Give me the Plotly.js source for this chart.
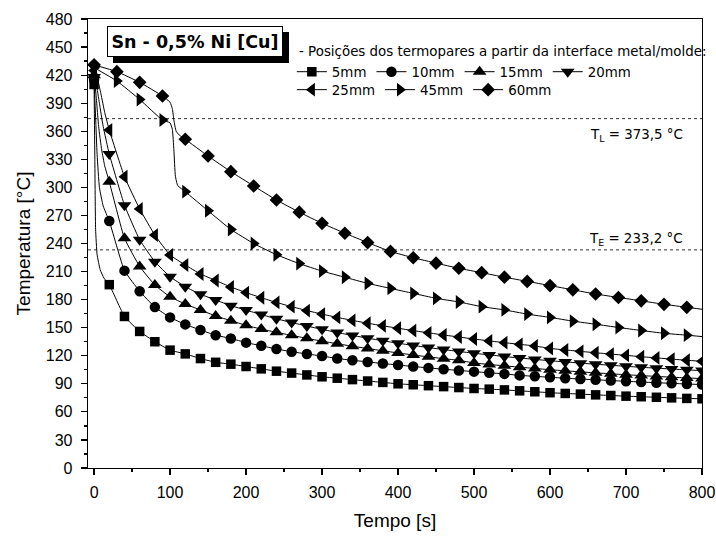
<!DOCTYPE html>
<html>
<head>
<meta charset="utf-8">
<script src="https://cdn.plot.ly/plotly-3.0.1.min.js"></script>
<style>
  html, body { margin: 0; padding: 0; background: #ffffff; }
  #chart { width: 716px; height: 541px; }
</style>
</head>
<body>
<div id="chart"></div>
<script>
// Sampling grids of the plotted markers (s)
const time20 = [0,20,40,60,80,100,120,140,160,180,200,220,240,260,280,300,320,340,360,380,400,
                420,440,460,480,500,520,540,560,580,600,620,640,660,680,700,720,740,760,780,800];
const time30 = [0,30,60,90,120,150,180,210,240,270,300,330,360,390,420,450,480,510,540,570,600,
                630,660,690,720,750,780];

// Thermocouple readings (°C) at the marker times
const temp5mm  = [410,196,162,146,135,126,122,117,113,111,108.5,106,103.5,101.5,99.5,97.5,96,94.5,93,91.5,90,
                  89,88,87,86,85,84.3,83.5,82.5,81.5,80.5,79.7,79,78.2,77.5,76.8,76.2,75.6,75,74.4,74];
const temp10mm = [415,264,211,189,172,161,153.5,147.5,142,138.5,134,130.7,127.2,124.3,121.9,119.7,117,115.2,113.4,111.7,110.1,
                  108.5,107,105.6,104.3,103,101.8,100.6,99,98,97,96,95.1,94.3,93.5,92.7,91.9,91.2,90.5,89.8,89.2];
const temp15mm = [420,306,245.6,215.5,195.6,183,175.3,168.9,162.5,157.5,152.5,148.5,145,141.8,138.6,135.6,132.8,130.2,127.7,125.3,123,
                  120.8,118.8,116.9,115.1,112.3,110.7,109.2,107.8,106.4,105.1,103.9,102.8,101.7,100.7,99.7,98.8,97.9,97.1,96.3,95.6];
const temp20mm = [418,335.7,281,244,220.5,204.5,193.8,185.7,179.6,173.5,168.8,164,159.5,155.5,151.8,148.2,144.8,141.7,138.8,136,133.4,
                  131,128.8,126.6,124.6,122.7,120.9,119.2,117.6,116.1,114.7,113.4,112.1,110.9,109.8,108.7,107.7,106.7,105.8,104.9,104.1];
const temp25mm = [425,361.3,311.4,277,249,227.7,217,207.4,200.5,193.5,187.5,182,177,172.5,168.3,164.5,161,157.8,154.8,152,149.4,
                  146.9,144.5,142.2,140,137.9,135.9,134,132.2,130.5,127.8,126.2,124.7,123.2,121.8,120.4,119,117.7,116.4,115.2,114];
const temp45mm = [428,413.7,394,372,295.4,275,255,240,228,218.5,210.5,203.9,197.4,192,186.7,181.4,177.5,172.5,169,164.5,161,
                  157,153.7,150.2,147,144,142];
const temp60mm = [431,423.7,412.3,397.7,351.4,333.5,316.8,301.5,286.5,273.5,261.6,251,241,231.5,224.8,219,213.5,208.8,204,199.5,195,
                  190.5,186,182.3,178.7,175,171.8];

// Additional curve vertices between markers (fast initial cooling, solidification steps, end of record)
const extraTime5mm  = [1,2,4,8,13];
const extraTemp5mm  = [330,255,228,212,203];
const extraTime10mm = [2,4,7,12];
const extraTemp10mm = [375,335,300,280];
const extraTime15mm = [3,6,10,14];
const extraTemp15mm = [395,365,340,323];
const extraTime20mm = [3,7,12];
const extraTemp20mm = [410,390,365];
const extraTime25mm = [4,9,14];
const extraTemp25mm = [418,400,380];
const extraTime45mm = [100,103,105,107,110,800];
const extraTemp45mm = [369,362,340,312,302,140.5];
const extraTime60mm = [100,103,105,108,112,800];
const extraTemp60mm = [391,384,372,360,356,169.7];

// Reference temperatures
const liquidusTemp  = 373.5;
const eutecticTemp  = 233.2;

const seriesNames = ['5mm','10mm','15mm','20mm','25mm','45mm','60mm'];

const series = [
  {name: seriesNames[0], t: time20, v: temp5mm,  et: extraTime5mm,  ev: extraTemp5mm,  symbol: 'square',         size: 9.5, legend: 'legend'},
  {name: seriesNames[1], t: time20, v: temp10mm, et: extraTime10mm, ev: extraTemp10mm, symbol: 'circle',         size: 10.5, legend: 'legend'},
  {name: seriesNames[2], t: time20, v: temp15mm, et: extraTime15mm, ev: extraTemp15mm, symbol: 'triangle-up',    size: 12, legend: 'legend'},
  {name: seriesNames[3], t: time20, v: temp20mm, et: extraTime20mm, ev: extraTemp20mm, symbol: 'triangle-down',  size: 12, legend: 'legend'},
  {name: seriesNames[4], t: time20, v: temp25mm, et: extraTime25mm, ev: extraTemp25mm, symbol: 'triangle-left',  size: 12, legend: 'legend2'},
  {name: seriesNames[5], t: time30, v: temp45mm, et: extraTime45mm, ev: extraTemp45mm, symbol: 'triangle-right', size: 12, legend: 'legend2'},
  {name: seriesNames[6], t: time30, v: temp60mm, et: extraTime60mm, ev: extraTemp60mm, symbol: 'diamond',        size: 10.5, legend: 'legend2'}
];

// Merge marker points with the extra vertices, ordered by time
function curvePoints(s) {
  const pts = s.t.map((t, i) => [t, s.v[i]]).concat(s.et.map((t, i) => [t, s.ev[i]]));
  pts.sort((a, b) => a[0] - b[0]);
  return {x: pts.map(p => p[0]), y: pts.map(p => p[1])};
}

const traces = [];
series.forEach(s => {
  const c = curvePoints(s);
  traces.push({
    type: 'scatter', mode: 'lines', x: c.x, y: c.y,
    line: {color: '#000', width: 1, shape: 'spline', smoothing: 0.4},
    showlegend: false, hoverinfo: 'skip'
  });
  traces.push({
    type: 'scatter', mode: 'markers', x: s.t, y: s.v,
    marker: {symbol: s.symbol, size: s.size, color: '#000', line: {width: 0}},
    showlegend: false, name: s.name
  });
  // legend entry (line with marker)
  traces.push({
    type: 'scatter', mode: 'lines+markers', x: [null], y: [null], name: s.name,
    legend: s.legend,
    line: {color: '#000', width: 1},
    marker: {symbol: s.symbol, size: s.size, color: '#000', line: {width: 0}}
  });
});

function fmt(v) { return v.toFixed(1).replace('.', ','); }

const axisFont = {family: 'Liberation Sans, Arial, sans-serif', size: 16, color: '#000'};
const titleFont = {family: 'Liberation Sans, Arial, sans-serif', size: 19, color: '#000'};
const noteFont = {family: 'DejaVu Sans, Verdana, sans-serif', size: 13.4, color: '#000'};

// Plot area in pixels, used to place the alloy label box and its shadow
const plotLeft = 88, plotWidth = 614, plotBottom = 468, plotHeight = 449;
const px = v => (v - plotLeft) / plotWidth;
const py = v => (plotBottom - v) / plotHeight;
const box = {left: 107, right: 283, top: 26, bottom: 57, shadow: 6};

const layout = {
  width: 716, height: 541,
  paper_bgcolor: '#fff', plot_bgcolor: '#fff',
  margin: {l: 88, r: 14, t: 19, b: 73},
  showlegend: true,
  xaxis: {
    range: [-8, 800], tick0: 0, dtick: 100,
    showgrid: false, zeroline: false,
    showline: true, linecolor: '#000', linewidth: 1.3, mirror: true,
    ticks: 'outside', ticklen: 6, tickwidth: 1.2, tickcolor: '#000',
    minor: {dtick: 50, ticks: 'outside', ticklen: 3, tickwidth: 1.2, tickcolor: '#000', showgrid: false},
    tickfont: axisFont, ticklabelstandoff: 3,
    title: {text: 'Tempo [s]', font: titleFont, standoff: 14}
  },
  yaxis: {
    range: [0, 480], tick0: 0, dtick: 30,
    showgrid: false, zeroline: false,
    showline: true, linecolor: '#000', linewidth: 1.3, mirror: true,
    ticks: 'outside', ticklen: 6, tickwidth: 1.2, tickcolor: '#000',
    minor: {dtick: 15, ticks: 'outside', ticklen: 3, tickwidth: 1.2, tickcolor: '#000', showgrid: false},
    tickfont: axisFont, ticklabelstandoff: 5,
    title: {text: 'Temperatura [°C]', font: titleFont, standoff: 10}
  },
  legend: {
    orientation: 'h', x: 0.332, xanchor: 'left', y: 0.882, yanchor: 'middle',
    bgcolor: 'rgba(0,0,0,0)', borderwidth: 0, font: noteFont, itemclick: false, itemdoubleclick: false
  },
  legend2: {
    orientation: 'h', x: 0.332, xanchor: 'left', y: 0.842, yanchor: 'middle',
    bgcolor: 'rgba(0,0,0,0)', borderwidth: 0, font: noteFont, itemclick: false, itemdoubleclick: false
  },
  shapes: [
    {type: 'line', xref: 'paper', x0: 0, x1: 1, yref: 'y', y0: liquidusTemp, y1: liquidusTemp,
     line: {color: '#333', width: 1, dash: '3px,3px'}, layer: 'below'},
    {type: 'line', xref: 'paper', x0: 0, x1: 1, yref: 'y', y0: eutecticTemp, y1: eutecticTemp,
     line: {color: '#333', width: 1, dash: '3px,3px'}, layer: 'below'},
    // drop shadow of the alloy label
    {type: 'rect', xref: 'paper', yref: 'paper',
     x0: px(box.left + box.shadow), x1: px(box.right + box.shadow),
     y0: py(box.bottom + box.shadow), y1: py(box.top + box.shadow),
     fillcolor: '#000', line: {width: 0}, layer: 'above'}
  ],
  annotations: [
    {xref: 'paper', yref: 'paper', x: px((box.left + box.right) / 2), y: py((box.top + box.bottom) / 2),
     xanchor: 'center', yanchor: 'middle',
     width: box.right - box.left - 10, height: box.bottom - box.top - 10,
     text: '<b>Sn - 0,5% Ni [Cu]</b>', showarrow: false,
     font: {family: 'DejaVu Sans, Verdana, sans-serif', size: 17.5, color: '#000'},
     bgcolor: '#fff', bordercolor: '#000', borderwidth: 1, borderpad: 4},
    {xref: 'paper', yref: 'paper', x: 0.3404, y: 0.9287, xanchor: 'left', yanchor: 'middle',
     text: '- Posições dos termopares a partir da interface metal/molde:', showarrow: false, font: noteFont},
    {xref: 'paper', yref: 'paper', x: 0.9723, y: 0.7416, xanchor: 'right', yanchor: 'middle',
     text: 'T<sub>L</sub> = ' + fmt(liquidusTemp) + ' °C', showarrow: false, font: noteFont},
    {xref: 'paper', yref: 'paper', x: 0.9723, y: 0.5078, xanchor: 'right', yanchor: 'middle',
     text: 'T<sub>E</sub> = ' + fmt(eutecticTemp) + ' °C', showarrow: false, font: noteFont}
  ]
};

Plotly.newPlot('chart', traces, layout, {displayModeBar: false, staticPlot: true});
</script>
</body>
</html>
